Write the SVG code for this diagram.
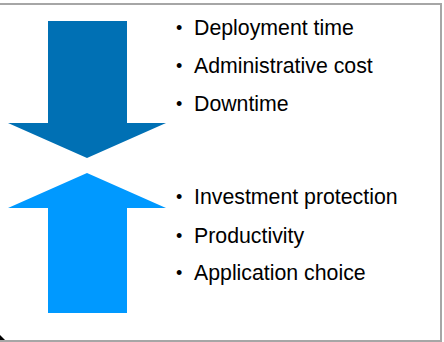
<svg xmlns="http://www.w3.org/2000/svg" width="444" height="342" viewBox="0 0 444 342">
<style>
.t{font-family:"Liberation Sans",Arial,sans-serif;font-size:21.3px;fill:#000}
.b{font-family:"Liberation Sans",Arial,sans-serif;font-size:18px;fill:#000}
.frame{fill:none;stroke:#A6A6A6;stroke-width:2}
</style>
<rect width="444" height="342" fill="#fff"/>
<path class="frame" d="M0 4 H441 V341 H0"/>
<path d="M0 335 L5 340 L0 340 Z" fill="#000"/>
<g id="arrow-down">
<polygon points="48,21 127,21 127,123 166,123 87,158 8,123 48,123" fill="#0070B4"/>
</g>
<g id="arrow-up">
<polygon points="87,173 166,208 127,208 127,313 48,313 48,208 8,208" fill="#0099FF"/>
</g>
<g id="list-top">
<text class="b" x="176" y="34">•</text><text class="t" x="194" y="35">Deployment time</text>
<text class="b" x="176" y="72">•</text><text class="t" x="194" y="73">Administrative cost</text>
<text class="b" x="176" y="110">•</text><text class="t" x="194" y="111">Downtime</text>
</g>
<g id="list-bottom">
<text class="b" x="176" y="203">•</text><text class="t" x="194" y="204">Investment protection</text>
<text class="b" x="176" y="242">•</text><text class="t" x="194" y="243">Productivity</text>
<text class="b" x="176" y="279">•</text><text class="t" x="194" y="280">Application choice</text>
</g>
<g id="connectors"/>
</svg>
